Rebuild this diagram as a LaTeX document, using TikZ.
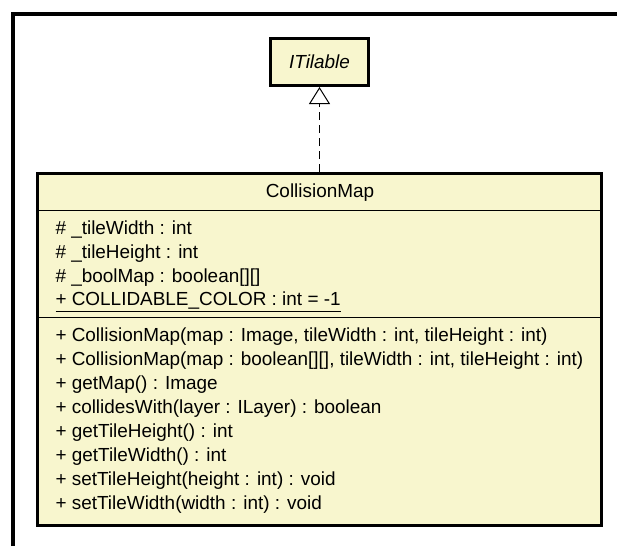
\documentclass[tikz,border=0pt]{standalone}
\usepackage{fontspec}
\setmainfont{Liberation Sans}
\usetikzlibrary{arrows.meta}
\definecolor{umlfill}{RGB}{248,246,206}
\tikzset{every picture/.style={line width=0.75pt}}

\begin{document}
\begin{tikzpicture}[x=0.75pt,y=0.75pt,yscale=-1,xscale=1,
  classbox/.style={draw, fill=umlfill, line width=2.25pt, inner sep=0pt},
  umltext/.style={inner sep=0pt, font=\fontsize{14.2}{17}\selectfont},
  member/.style={umltext, anchor=west}]
\useasboundingbox (0,0) rectangle (617,546);

%Straight Lines: frame
\draw [line width=3pt] (13,546) -- (13,14) -- (617,14) ;

%Shape: Rectangle ITilable
\node [classbox, minimum width=73.5pt, minimum height=35.25pt] (tilable) at (319.5,62) {};
%Shape: Rectangle CollisionMap
\node [classbox, minimum width=423pt, minimum height=264pt] (cmap) at (319.5,349.5) {};
%Straight Lines: compartments
\draw    (37.5,210) -- (601.5,210) ;
\draw    (37.5,317) -- (601.5,317) ;

%Realization
\draw [dash pattern=on 6pt off 3.75pt, -{Triangle[width=15.75pt,length=12.75pt,fill=white]}] (cmap.north) -- (tilable.south) ;

% Text Node
\node [umltext] (tilablename) at (tilable) {\itshape ITilable};
% Text Node
\node [umltext] (cmapname) at (320,193) {CollisionMap};

% Text Node
\node [member] (tilewidth) at (55,230) {\# \_tileWidth : int};
% Text Node
\node [member] (tileheight) at (55,254) {\# \_tileHeight : int};
% Text Node
\node [member] (boolmap) at (55,278) {\# \_boolMap : boolean[][]};
% Text Node
\node [member] (collcolor) at (55,302) {\underline{+ COLLIDABLE\_COLOR : int = -1}};

% Text Node
\node [member] (ctorimage) at (55,337) {+ CollisionMap(map : Image, tileWidth : int, tileHeight : int)};
% Text Node
\node [member] (ctorbool) at (55,361) {+ CollisionMap(map : boolean[][], tileWidth : int, tileHeight : int)};
% Text Node
\node [member] (getmap) at (55,385) {+ getMap() : Image};
% Text Node
\node [member] (collides) at (55,409) {+ collidesWith(layer : ILayer) : boolean};
% Text Node
\node [member] (gettileh) at (55,433) {+ getTileHeight() : int};
% Text Node
\node [member] (gettilew) at (55,457) {+ getTileWidth() : int};
% Text Node
\node [member] (settileh) at (55,481) {+ setTileHeight(height : int) : void};
% Text Node
\node [member] (settilew) at (55,505) {+ setTileWidth(width : int) : void};

\end{tikzpicture}
\end{document}
